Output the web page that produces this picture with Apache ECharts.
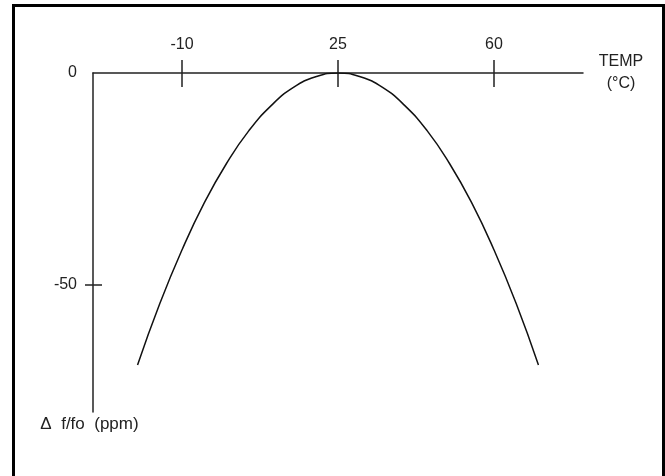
<!DOCTYPE html>
<html>
<head>
<meta charset="utf-8">
<script src="https://cdn.jsdelivr.net/npm/echarts@6/dist/echarts.min.js"></script>
<style>
  html, body { margin: 0; padding: 0; background: #fff; }
  #chart { width: 665px; height: 476px; }
</style>
</head>
<body>
<div id="chart"></div>
<script>
// temperature (°C) and frequency deviation (ppm)
const temps = [-20, -15, -10, -5, 0, 5, 10, 15, 20, 25, 30, 35, 40, 45, 50, 55, 60, 65, 70];
const deviation = [-68.9, -54.4, -41.7, -30.6, -21.3, -13.6, -7.7, -3.4, -0.9, 0,
  -0.9, -3.4, -7.7, -13.6, -21.3, -30.6, -41.7, -54.4, -68.9];
const xTicks = [-10, 25, 60];
const yTicks = [-50];
const yLabels = [0, -50];

const font = "Liberation Sans, Arial, sans-serif";
const ink = "#222";

const chart = echarts.init(document.getElementById("chart"));
const option = {
  animation: false,
  backgroundColor: "#fff",
  grid: { left: 93, right: 82, top: 73, bottom: 64 },
  xAxis: [
    {
      type: "value",
      position: "top",
      min: -30,
      max: 80,
      name: "TEMP\n(°C)",
      nameLocation: "end",
      nameGap: 38,
      nameTextStyle: {
        fontFamily: font, fontSize: 16, color: ink,
        align: "center", verticalAlign: "middle", lineHeight: 22
      },
      axisLine: { onZero: false, lineStyle: { color: ink, width: 1.5 } },
      axisTick: { show: true, customValues: xTicks, length: 13, lineStyle: { color: ink, width: 1.5 } },
      axisLabel: { customValues: xTicks, margin: 20, fontFamily: font, fontSize: 16, color: ink },
      splitLine: { show: false }
    },
    {
      type: "value",
      position: "top",
      min: -30,
      max: 80,
      axisLine: { show: false, onZero: false },
      axisTick: { show: true, inside: true, customValues: xTicks, length: 14, lineStyle: { color: ink, width: 1.5 } },
      axisLabel: { show: false },
      splitLine: { show: false }
    }
  ],
  yAxis: [
    {
      type: "value",
      position: "left",
      min: -80,
      max: 0,
      name: "Δ  f/fo  (ppm)",
      nameLocation: "start",
      nameGap: 12,
      nameTextStyle: {
        fontFamily: font, fontSize: 17, color: ink,
        align: "center", verticalAlign: "middle", padding: [0, 7, 0, 0]
      },
      axisLine: { onZero: false, lineStyle: { color: ink, width: 1.5 } },
      axisTick: { show: true, customValues: yTicks, length: 8, lineStyle: { color: ink, width: 1.5 } },
      axisLabel: { customValues: yLabels, margin: 16, fontFamily: font, fontSize: 16, color: ink },
      splitLine: { show: false }
    },
    {
      type: "value",
      position: "left",
      min: -80,
      max: 0,
      axisLine: { show: false, onZero: false },
      axisTick: { show: true, inside: true, customValues: yTicks, length: 9, lineStyle: { color: ink, width: 1.5 } },
      axisLabel: { show: false },
      splitLine: { show: false }
    }
  ],
  graphic: [
    {
      type: "rect",
      shape: { x: 13.5, y: 5.5, width: 650, height: 500 },
      style: { fill: null, stroke: "#000", lineWidth: 3 },
      silent: true
    }
  ],
  series: [
    {
      type: "line",
      data: temps.map((t, i) => [t, deviation[i]]),
      smooth: true,
      showSymbol: false,
      lineStyle: { color: "#111", width: 1.5 }
    }
  ]
};
chart.setOption(option);
</script>
</body>
</html>
